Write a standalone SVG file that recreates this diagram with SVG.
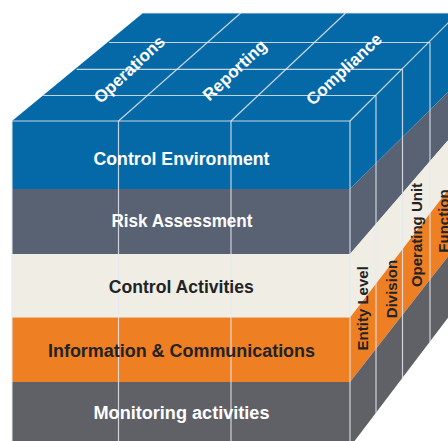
<svg xmlns="http://www.w3.org/2000/svg" width="448" height="441" viewBox="0 0 448 441">
  <style>
    .blue{fill:#0669a7}
    .slate{fill:#586273}
    .cream{fill:#f0eee4}
    .orange{fill:#ee7f22}
    .gray{fill:#5f6167}
    .ln{stroke:#e4e8ee;stroke-width:1.2;fill:none;stroke-opacity:0.85}
    .t{font-family:"Liberation Sans",Arial,sans-serif;font-weight:bold;text-anchor:middle}
    .w{fill:#ffffff}
    .d{fill:#222326}
  </style>
  <rect width="448" height="441" fill="#ffffff"/>
  <g id="top-face">
    <polygon class="blue" points="12,121 143,13 458,13 350,121"/>
  </g>
  <g id="side-face">
    <polygon class="blue" points="350,121 460,10 460,80 350,189"/>
    <polygon class="slate" points="350,189 460,80 460,126.4 350,254"/>
    <polygon class="cream" points="350,254 460,126.4 460,174.5 350,317.5"/>
    <polygon class="orange" points="350,317.5 460,174.5 460,241 350,382"/>
    <polygon class="gray" points="350,382 460,241 460,302 350,447"/>
  </g>
  <g id="front-face">
    <rect id="control-environment" class="blue" x="12" y="121" width="338" height="68"/>
    <rect id="risk-assessment" class="slate" x="12" y="189" width="338" height="65"/>
    <rect id="control-activities" class="cream" x="12" y="254" width="338" height="63.5"/>
    <rect id="information-communications" class="orange" x="12" y="317.5" width="338" height="64.5"/>
    <rect id="monitoring-activities" class="gray" x="12" y="382" width="338" height="65"/>
  </g>
  <g id="connectors">
    <line class="ln" x1="12" y1="121" x2="350" y2="121"/>
    <line class="ln" x1="12" y1="121" x2="12" y2="447"/>
    <line class="ln" x1="118.5" y1="121" x2="118.5" y2="447"/>
    <line class="ln" x1="231" y1="121" x2="231" y2="447"/>
    <line class="ln" x1="350" y1="121" x2="350" y2="447"/>
    <line class="ln" x1="43.3" y1="95.5" x2="376" y2="95.5"/>
    <line class="ln" x1="76.7" y1="69.3" x2="402.5" y2="69.3"/>
    <line class="ln" x1="109" y1="42.5" x2="430" y2="42.5"/>
    <line class="ln" x1="143" y1="13" x2="458" y2="13"/>
    <line class="ln" x1="118.5" y1="121" x2="240.7" y2="13"/>
    <line class="ln" x1="231" y1="121" x2="345.7" y2="13"/>
    <line class="ln" x1="350" y1="121" x2="458" y2="13"/>
    <line class="ln" x1="376" y1="95.5" x2="376" y2="413"/>
    <line class="ln" x1="402.5" y1="69.3" x2="402.5" y2="379"/>
    <line class="ln" x1="430" y1="42.5" x2="430" y2="342"/>
  </g>
  <g id="top-labels">
    <text class="t w" font-size="17" transform="translate(133.3,73.6) rotate(-43)">Operations</text>
    <text class="t w" font-size="17" transform="translate(238.6,74.4) rotate(-43)">Reporting</text>
    <text class="t w" font-size="17" transform="translate(348,73.4) rotate(-43)">Compliance</text>
  </g>
  <g id="front-labels">
    <text class="t w" font-size="18" x="181.5" y="165" textLength="176" lengthAdjust="spacingAndGlyphs">Control Environment</text>
    <text class="t w" font-size="18" x="182" y="227.3" textLength="141" lengthAdjust="spacingAndGlyphs">Risk Assessment</text>
    <text class="t d" font-size="18" x="181.3" y="293.3" textLength="145" lengthAdjust="spacingAndGlyphs">Control Activities</text>
    <text class="t d" font-size="18" x="181.5" y="357.3" textLength="267" lengthAdjust="spacingAndGlyphs">Information &amp; Communications</text>
    <text class="t w" font-size="18" x="181.5" y="419.3" textLength="176" lengthAdjust="spacingAndGlyphs">Monitoring activities</text>
  </g>
  <g id="side-labels">
    <text class="t d" font-size="15" transform="translate(368.3,308.3) rotate(-90)">Entity Level</text>
    <text class="t d" font-size="15" transform="translate(396.5,289) rotate(-90)">Division</text>
    <text class="t d" font-size="15" transform="translate(421.7,235) rotate(-90)">Operating Unit</text>
    <text class="t d" font-size="15" transform="translate(449,221) rotate(-90)">Function</text>
  </g>
</svg>
